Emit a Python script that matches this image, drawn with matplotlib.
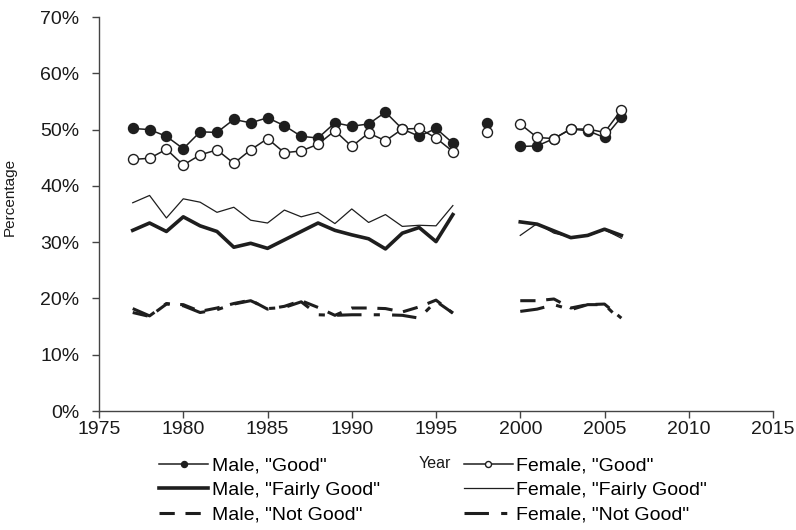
import numpy as np
import matplotlib.pyplot as plt

plt.rcParams['font.family'] = ['Liberation Sans', 'DejaVu Sans']

nan = np.nan
years = list(range(1977, 2007))

# self-rated health, percent of respondents (no survey in 1997 and 1999)
male_good = [50.2, 50.0, 48.8, 46.6, 49.6, 49.5, 51.8, 51.2, 52.1, 50.7,
             48.8, 48.5, 51.2, 50.6, 51.0, 53.1, 50.1, 48.8, 50.2, 47.6,
             nan, 51.2, nan, 47.0, 47.1, 48.4, 50.1, 49.8, 48.6, 52.2]
female_good = [44.7, 44.9, 46.5, 43.7, 45.5, 46.4, 44.0, 46.4, 48.4, 45.9,
               46.2, 47.4, 49.8, 47.0, 49.4, 48.0, 50.1, 50.2, 48.5, 46.1,
               nan, 49.5, nan, 51.0, 48.6, 48.4, 50.1, 50.1, 49.5, 53.5]
male_fairly = [32.1, 33.4, 31.9, 34.5, 32.9, 31.9, 29.1, 29.8, 28.9, 30.4,
               31.9, 33.4, 32.1, 31.3, 30.6, 28.8, 31.6, 32.6, 30.1, 34.9,
               nan, nan, nan, 33.6, 33.2, 32.0, 30.8, 31.2, 32.3, 31.2]
female_fairly = [37.0, 38.3, 34.3, 37.7, 37.1, 35.3, 36.2, 33.9, 33.4, 35.7,
                 34.5, 35.3, 33.3, 35.9, 33.5, 34.9, 32.8, 33.0, 32.9, 36.5,
                 nan, nan, nan, 31.2, 33.3, 31.6, 30.9, 31.1, 32.2, 30.7]
male_not = [17.5, 16.8, 19.0, 18.9, 17.7, 18.3, 19.1, 19.7, 18.1, 18.6,
            19.6, 18.4, 17.0, 18.3, 18.3, 18.2, 17.6, 18.5, 19.7, 17.4,
            nan, nan, nan, 19.6, 19.6, 19.9, 18.3, 18.9, 19.0, 16.5]
female_not = [18.2, 16.9, 19.1, 18.7, 17.5, 18.0, 19.0, 19.6, 18.2, 18.4,
              19.4, 17.1, 17.0, 17.1, 17.1, 17.1, 17.0, 16.5, 19.5, 17.4,
              nan, nan, nan, 17.7, 18.1, 18.9, 18.0, 18.9, 18.9, 16.0]

ink = '#1e1e1e'

fig = plt.figure(figsize=(7.96, 5.30), dpi=100)
ax = fig.add_axes([0.1244, 0.2245, 0.8467, 0.7434])

ax.plot(years, np.array(male_good) / 100, color=ink, lw=1.1, marker='o',
        ms=7.2, mfc=ink, mec=ink, label='Male, "Good"')
ax.plot(years, np.array(male_fairly) / 100, color=ink, lw=2.6,
        label='Male, "Fairly Good"')
ax.plot(years, np.array(male_not) / 100, color=ink, lw=2.2,
        dashes=(5, 3.5), label='Male, "Not Good"')
ax.plot(years, np.array(female_good) / 100, color=ink, lw=1.1, marker='o',
        ms=7.2, mfc='white', mec=ink, mew=1.0, label='Female, "Good"')
ax.plot(years, np.array(female_fairly) / 100, color=ink, lw=0.9,
        label='Female, "Fairly Good"')
ax.plot(years, np.array(female_not) / 100, color=ink, lw=2.2,
        dashes=(8, 4, 2, 4), label='Female, "Not Good"')

ax.set_xlim(1975, 2015)
ax.set_ylim(0, 0.70)
ax.set_xticks(range(1975, 2016, 5))
ax.set_yticks(np.arange(0, 0.71, 0.1))
ax.yaxis.set_major_formatter(plt.FuncFormatter(lambda v, p: f'{v * 100:.0f}%'))

for side in ['top', 'right']:
    ax.spines[side].set_visible(False)
for side in ['left', 'bottom']:
    ax.spines[side].set_color('#444444')
    ax.spines[side].set_linewidth(1.0)
ax.tick_params(axis='both', direction='out', length=5, width=1.0,
               color='#444444', labelsize=14, labelcolor='#1a1a1a')
ax.tick_params(axis='x', pad=2)
ax.tick_params(axis='y', pad=9)

ax.set_ylabel('Percentage', fontsize=11, color='#1a1a1a')
ax.yaxis.set_label_coords(-0.122, 0.543)
ax.set_xlabel('Year', fontsize=11.5, color='#1a1a1a')
ax.xaxis.label.set_va('center')
ax.xaxis.set_label_coords(0.4985, -0.132)

fig.legend(loc='upper left', bbox_to_anchor=(159 / 796, 1 - 457 / 530),
           ncol=2, frameon=False, fontsize=14, handlelength=2.52,
           handletextpad=0.2, columnspacing=4.3, labelspacing=0.36,
           borderpad=0, borderaxespad=0, markerscale=0.6)

fig.savefig('out.png', dpi=100)
